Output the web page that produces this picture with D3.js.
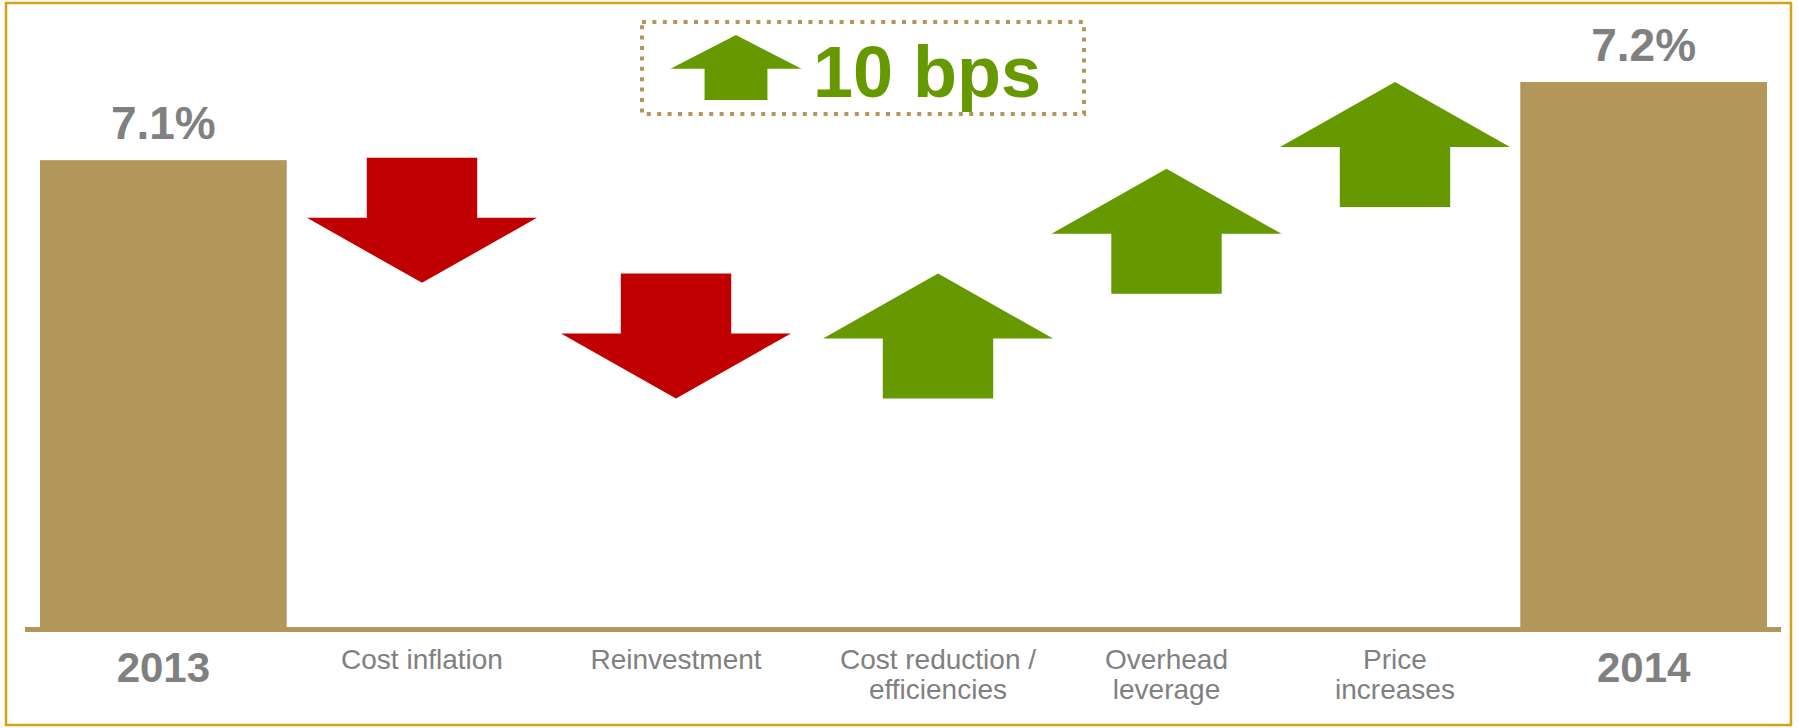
<!DOCTYPE html>
<html>
<head>
<meta charset="utf-8">
<script src="https://cdn.jsdelivr.net/npm/d3@7"></script>
<style>
  html, body { margin: 0; padding: 0; background: #ffffff; }
  svg { display: block; font-family: "Liberation Sans", Arial, sans-serif; }
</style>
</head>
<body>
<svg id="chart" width="1799" height="728"></svg>
<script>
// Operating margin bridge, 2013 -> 2014 (values in %)
const categories = ["2013", "Cost inflation", "Reinvestment", "Cost reduction / efficiencies", "Overhead leverage", "Price increases", "2014"];
const categoryLines = [["2013"], ["Cost inflation"], ["Reinvestment"], ["Cost reduction /", "efficiencies"], ["Overhead", "leverage"], ["Price", "increases"], ["2014"]];
const totalCats = ["2013", "2014"];
const totalValues = [7.1, 7.2];
const totalLabels = ["7.1%", "7.2%"];
const stepCats = ["Cost inflation", "Reinvestment", "Cost reduction / efficiencies", "Overhead leverage", "Price increases"];
const stepFrom = [7.103, 6.955, 6.795, 6.929, 7.04];
const stepTo = [6.943, 6.795, 6.955, 7.089, 7.20];
const netChange = "10 bps";
const axisFloor = 6.5;

const COLORS = { bar: "#B3975A", up: "#669900", down: "#C00000", text: "#808080", frame: "#D4A216" };

const svg = d3.select("#chart");

// frame
svg.append("rect")
  .attr("x", 6).attr("y", 3).attr("width", 1785).attr("height", 722)
  .attr("fill", "none").attr("stroke", COLORS.frame).attr("stroke-width", 2.5);

const steps = stepCats.map((c, i) => ({ cat: c, from: stepFrom[i], to: stepTo[i] }));
const downCats = steps.filter(d => d.to < d.from).map(d => d.cat);
const upCats = steps.filter(d => d.to >= d.from).map(d => d.cat);

// scales: totals on a band scale, headwinds and tailwinds each on their own point scale
const x = d3.scaleBand().domain(categories).range([40, 1767]).padding(0);
const xDown = d3.scalePoint().domain(downCats).range([422, 676]);
const xUp = d3.scalePoint().domain(upCats).range([938, 1395]);
const y = d3.scaleLinear().domain([axisFloor, d3.max(totalValues)]).range([629, 82]);
const arrowWidth = 230;

const centerOf = c => totalCats.includes(c) ? x(c) + x.bandwidth() / 2
  : (downCats.includes(c) ? xDown(c) : xUp(c));

// block arrow from one level to another
function arrowPath(cx, w, y0, y1, headFrac = 0.52, shaftFrac = 0.48) {
  const len = y1 - y0;
  const dir = Math.sign(len);
  const neck = y1 - dir * Math.abs(len) * headFrac;
  const sw = w * shaftFrac;
  const pts = [
    [cx - sw / 2, y0], [cx + sw / 2, y0], [cx + sw / 2, neck], [cx + w / 2, neck],
    [cx, y1], [cx - w / 2, neck], [cx - sw / 2, neck]
  ];
  return d3.line()(pts) + "Z";
}

// total bars
const totals = totalCats.map((c, i) => ({ cat: c, value: totalValues[i], label: totalLabels[i] }));
svg.append("g").selectAll("rect").data(totals).join("rect")
  .attr("x", d => x(d.cat))
  .attr("y", d => y(d.value))
  .attr("width", x.bandwidth())
  .attr("height", d => y(axisFloor) - y(d.value))
  .attr("fill", COLORS.bar);

svg.append("g").selectAll("text").data(totals).join("text")
  .attr("x", d => centerOf(d.cat))
  .attr("y", d => y(d.value) - 21)
  .attr("text-anchor", "middle")
  .attr("font-size", 46).attr("font-weight", "bold")
  .attr("fill", COLORS.text)
  .text(d => d.label);

// step arrows
svg.append("g").selectAll("path").data(steps).join("path")
  .attr("d", d => arrowPath(centerOf(d.cat), arrowWidth, y(d.from), y(d.to)))
  .attr("fill", d => d.to > d.from ? COLORS.up : COLORS.down);

// baseline
svg.append("line")
  .attr("x1", 25).attr("x2", 1781)
  .attr("y1", y(axisFloor) + 0.5).attr("y2", y(axisFloor) + 0.5)
  .attr("stroke", COLORS.bar).attr("stroke-width", 5);

// category labels
const labelG = svg.append("g");
categories.forEach((c, i) => {
  const isTotal = totalCats.includes(c);
  const t = labelG.append("text")
    .attr("x", centerOf(c))
    .attr("y", isTotal ? 682 : 669)
    .attr("text-anchor", "middle")
    .attr("font-size", isTotal ? 42 : 28)
    .attr("font-weight", isTotal ? "bold" : "normal")
    .attr("fill", COLORS.text);
  categoryLines[i].forEach((line, j) => {
    t.append("tspan").attr("x", centerOf(c)).attr("dy", j === 0 ? 0 : 30).text(line);
  });
});

// net change callout
const callout = svg.append("g");
callout.append("rect")
  .attr("x", 642).attr("y", 22).attr("width", 442).attr("height", 92)
  .attr("fill", "none").attr("stroke", COLORS.bar)
  .attr("stroke-width", 4).attr("stroke-dasharray", "4 6.4");
callout.append("path")
  .attr("d", arrowPath(736, 131, 100, 35))
  .attr("fill", COLORS.up);
callout.append("text")
  .attr("x", 813).attr("y", 97)
  .attr("font-size", 72).attr("font-weight", "bold")
  .attr("fill", COLORS.up)
  .text(netChange);
</script>
</body>
</html>
